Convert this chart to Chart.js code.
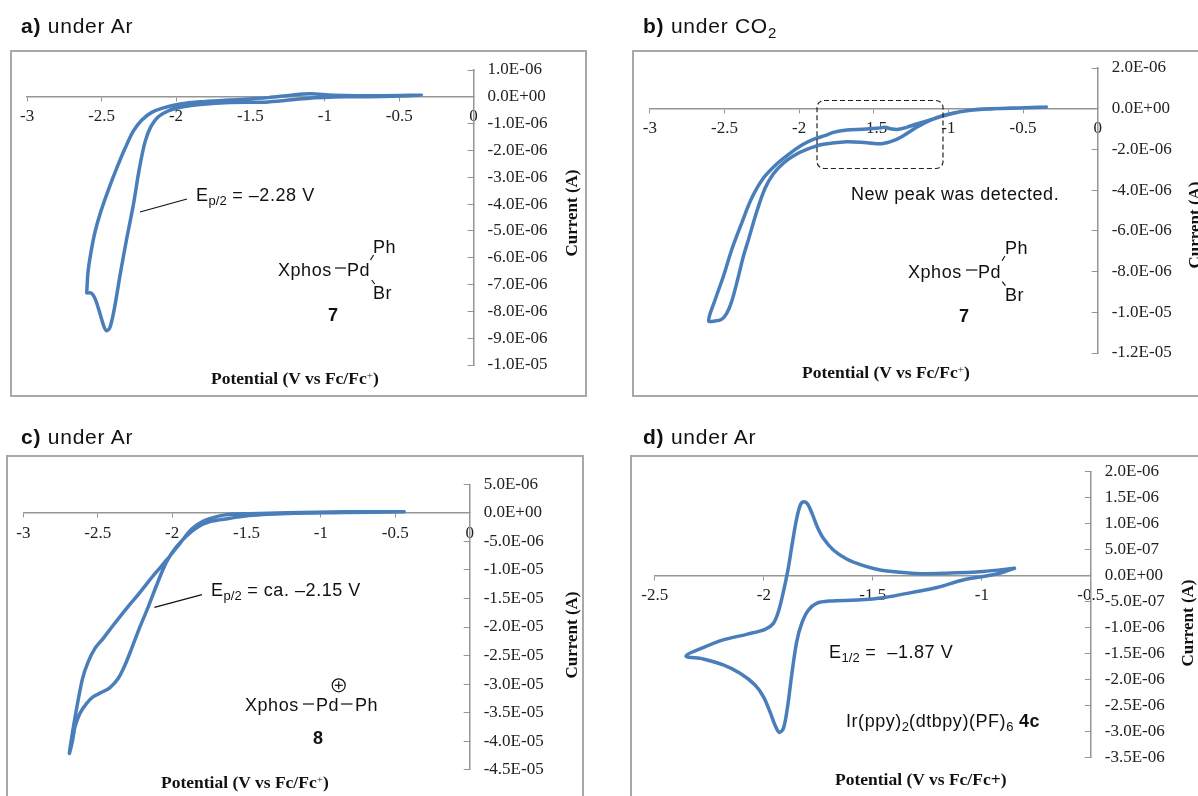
<!DOCTYPE html>
<html><head><meta charset="utf-8">
<script src="https://cdn.jsdelivr.net/npm/chart.js@4/dist/chart.umd.js"></script>
<style>
html,body{margin:0;padding:0;background:#fff;width:1198px;height:796px;overflow:hidden;}
body{position:relative;font-family:"Liberation Sans",Arial,sans-serif;color:#111;}
canvas{position:absolute;}
.frame{position:absolute;border:solid #a8a8a8;box-sizing:border-box;}
.t{position:absolute;white-space:nowrap;transform:translateY(-50%);line-height:1;}
.title{font-size:21px;letter-spacing:.75px;color:#111;}
.note{font-size:18px;letter-spacing:.55px;}
.note sub{font-size:13px;vertical-align:-4px;line-height:0;letter-spacing:0;}
.title sub{font-size:15px;vertical-align:-5px;line-height:0;}
.ax{font-family:"Liberation Serif","Times New Roman",serif;font-weight:bold;font-size:17.5px;}
.ax sup{font-size:11px;vertical-align:5px;line-height:0;font-weight:normal;}
.rot{position:absolute;white-space:nowrap;font-family:"Liberation Serif",serif;font-weight:bold;font-size:17px;transform:translate(-50%,-50%) rotate(-90deg);line-height:1;}
svg{position:absolute;left:0;top:0;}
</style></head><body>
<div class="frame" style="left:10px;top:50px;width:577px;height:347px;border-width:2px;"></div>
<div class="frame" style="left:632px;top:50px;width:580px;height:347px;border-width:2px;"></div>
<div class="frame" style="left:6px;top:455px;width:578px;height:360px;border-width:2px;"></div>
<div class="frame" style="left:630px;top:455px;width:580px;height:360px;border-width:2px;"></div>

<canvas id="ca"></canvas><canvas id="cb"></canvas><canvas id="cc"></canvas><canvas id="cd"></canvas>

<svg width="1198" height="796" stroke="#111" stroke-width="1.2" fill="none">
<line x1="140" y1="212" x2="187" y2="199"/>
<line x1="335" y1="268" x2="346" y2="268"/><line x1="370.5" y1="260" x2="373.6" y2="255"/><line x1="371.7" y1="280" x2="374.7" y2="284"/>
<line x1="966" y1="270" x2="977.4" y2="270"/><line x1="1002" y1="260.7" x2="1005" y2="256"/><line x1="1002.3" y1="281.7" x2="1005.4" y2="285.7"/>
<line x1="154.4" y1="607.3" x2="202" y2="594.7"/>
<line x1="303" y1="704" x2="314" y2="704"/><line x1="341" y1="704" x2="352.5" y2="704"/>
<circle cx="338.7" cy="685.3" r="6.5"/><line x1="334.7" y1="685.3" x2="342.7" y2="685.3"/><line x1="338.7" y1="681.3" x2="338.7" y2="689.3"/>
<rect x="817" y="100.5" width="126" height="68" rx="7" stroke="#222" stroke-width="1.2" stroke-dasharray="5 3"/>
</svg>

<div class="t title" style="left:21px;top:25px;"><b>a)</b> under Ar</div>
<div class="t title" style="left:643px;top:25px;"><b>b)</b> under CO<sub>2</sub></div>
<div class="t title" style="left:21px;top:436px;"><b>c)</b> under Ar</div>
<div class="t title" style="left:643px;top:436px;"><b>d)</b> under Ar</div>

<div class="t note" style="left:196px;top:195px;">E<sub>p/2</sub> = –2.28 V</div>
<div class="t note" style="left:278px;top:270px;">Xphos</div><div class="t note" style="left:347px;top:270px;">Pd</div>
<div class="t note" style="left:373px;top:247px;">Ph</div><div class="t note" style="left:373px;top:293px;">Br</div>
<div class="t note" style="left:328px;top:315px;"><b>7</b></div>
<div class="t ax" style="left:211px;top:379px;">Potential (V vs Fc/Fc<sup>+</sup>)</div>
<div class="rot" style="left:571px;top:213px;">Current (A)</div>

<div class="t note" style="left:851px;top:194px;">New peak was detected.</div>
<div class="t note" style="left:908px;top:272px;">Xphos</div><div class="t note" style="left:978px;top:272px;">Pd</div>
<div class="t note" style="left:1005px;top:248px;">Ph</div><div class="t note" style="left:1005px;top:295px;">Br</div>
<div class="t note" style="left:959px;top:316px;"><b>7</b></div>
<div class="t ax" style="left:802px;top:373px;">Potential (V vs Fc/Fc<sup>+</sup>)</div>
<div class="rot" style="left:1194px;top:225px;">Current (A)</div>

<div class="t note" style="left:211px;top:590px;">E<sub>p/2</sub> = ca. –2.15 V</div>
<div class="t note" style="left:245px;top:705px;">Xphos</div><div class="t note" style="left:316px;top:705px;">Pd</div><div class="t note" style="left:355px;top:705px;">Ph</div>
<div class="t note" style="left:313px;top:738px;"><b>8</b></div>
<div class="t ax" style="left:161px;top:783px;">Potential (V vs Fc/Fc<sup>+</sup>)</div>
<div class="rot" style="left:571px;top:635px;">Current (A)</div>

<div class="t note" style="left:829px;top:652px;">E<sub>1/2</sub> = &nbsp;–1.87 V</div>
<div class="t note" style="left:846px;top:721px;">Ir(ppy)<sub>2</sub>(dtbpy)(PF)<sub>6</sub> <b>4c</b></div>
<div class="t ax" style="left:835px;top:780px;">Potential (V vs Fc/Fc+)</div>
<div class="rot" style="left:1187px;top:623px;">Current (A)</div>

<script>
// Values in volts and microamperes
const aPotential=[-2.600,-2.591,-2.571,-2.544,-2.506,-2.455,-2.399,-2.343,-2.287,-2.231,-2.163,-2.085,-1.973,-1.839,-1.638,-1.38,-1.226,-1.097,-0.943,-0.608,-0.35,-0.608,-0.865,-1.123,-1.38,-1.638,-1.839,-1.951,-2.052,-2.119,-2.170,-2.208,-2.246,-2.287,-2.331,-2.376,-2.414,-2.444,-2.466,-2.484,-2.511,-2.540,-2.567,-2.600];
const aCurrent=[-7.31,-6.52,-5.78,-5.03,-4.29,-3.48,-2.67,-1.93,-1.28,-0.87,-0.58,-0.41,-0.27,-0.185,-0.12,-0.03,0.06,0.11,0.06,0.04,0.06,0.01,0,-0.06,-0.19,-0.21,-0.285,-0.37,-0.52,-0.745,-1.12,-1.68,-2.67,-4.04,-5.28,-6.65,-7.89,-8.60,-8.72,-8.57,-8.08,-7.58,-7.33,-7.31];

const bPotential=[-0.344,-0.767,-0.922,-1.023,-1.123,-1.213,-1.280,-1.335,-1.380,-1.425,-1.480,-1.570,-1.681,-1.771,-1.827,-1.893,-1.972,-2.061,-2.150,-2.240,-2.318,-2.385,-2.452,-2.508,-2.563,-2.606,-2.563,-2.519,-2.485,-2.452,-2.407,-2.374,-2.340,-2.284,-2.228,-2.173,-2.106,-2.039,-1.949,-1.838,-1.681,-1.547,-1.447,-1.369,-1.302,-1.213,-1.123,-1.023,-0.922,-0.767,-0.344];
const bCurrent=[0.08,-0.03,-0.146,-0.342,-0.555,-0.751,-0.915,-1.013,-0.997,-0.915,-0.964,-1.013,-1.046,-1.161,-1.325,-1.472,-1.750,-2.192,-2.716,-3.420,-4.402,-5.630,-6.940,-8.252,-9.396,-10.41,-10.43,-10.35,-10.05,-9.48,-8.252,-7.27,-6.45,-5.06,-3.91,-3.21,-2.68,-2.32,-2.0,-1.75,-1.62,-1.67,-1.72,-1.572,-1.326,-0.915,-0.57,-0.31,-0.146,-0.02,0.08];

const cPotential=[-0.44,-0.84,-1.226,-1.483,-1.611,-1.701,-1.790,-1.869,-1.947,-2.037,-2.127,-2.216,-2.306,-2.395,-2.463,-2.519,-2.564,-2.602,-2.638,-2.669,-2.691,-2.669,-2.653,-2.62,-2.575,-2.53,-2.474,-2.418,-2.362,-2.317,-2.272,-2.216,-2.16,-2.104,-2.037,-1.97,-1.902,-1.835,-1.746,-1.611,-1.483,-1.226,-0.84,-0.44];
const cCurrent=[0.18,0.18,0,-0.15,-0.26,-0.67,-1.43,-2.83,-5.34,-8.26,-11.0,-13.93,-16.73,-19.65,-21.98,-23.74,-26.07,-28.99,-33.67,-38.33,-42.14,-39.8,-37.46,-35.13,-33.37,-32.2,-31.44,-30.62,-28.99,-26.66,-23.74,-19.94,-16.43,-12.64,-8.55,-5.93,-4.0,-2.6,-1.55,-0.96,-0.45,-0.1,0.05,0.18];

const dPotential=[-0.85,-0.994,-1.17,-1.2835,-1.375,-1.467,-1.543,-1.620,-1.681,-1.727,-1.754,-1.777,-1.799,-1.816,-1.831,-1.849,-1.868,-1.888,-1.910,-1.933,-1.956,-1.994,-2.079,-2.186,-2.278,-2.357,-2.278,-2.186,-2.109,-2.040,-2.002,-1.972,-1.949,-1.929,-1.910,-1.892,-1.872,-1.849,-1.826,-1.795,-1.758,-1.697,-1.574,-1.452,-1.284,-1.205,-1.082,-0.994,-0.906,-0.85];
const dCurrent=[0.14,0.08,0.045,0.036,0.062,0.107,0.190,0.319,0.492,0.717,0.929,1.179,1.378,1.423,1.372,1.102,0.653,0.139,-0.31,-0.695,-0.92,-1.036,-1.132,-1.24,-1.389,-1.549,-1.607,-1.722,-1.883,-2.107,-2.332,-2.621,-2.878,-3.019,-2.942,-2.557,-1.915,-1.273,-0.92,-0.663,-0.535,-0.49,-0.471,-0.426,-0.297,-0.23,-0.08,-0.02,0.06,0.14];

const LINE='#4a7ebb', AXIS='#969696', TICK='#222';
function sci(uA){
  if(Math.abs(uA)<1e-9) return '0.0E+00';
  const [m,e]=(uA*1e-6).toExponential(1).split('e');
  const n=parseInt(e,10);
  return m+'E'+(n<0?'-':'+')+String(Math.abs(n)).padStart(2,'0');
}
function panel(id,box,plot,xr,yr,xs,ys){
  const c=document.getElementById(id);
  c.width=box.w;c.height=box.h;
  c.style.left=box.x+'px';c.style.top=box.y+'px';
  const axisW=box.x+box.w-plot.r;
  new Chart(c,{type:'scatter',
    data:{datasets:[{data:xs.map((x,i)=>({x:x,y:ys[i]})),showLine:true,borderColor:LINE,borderWidth:3.5,pointRadius:0,tension:0.33,fill:false,clip:false,borderJoinStyle:'round',borderCapStyle:'round'}]},
    options:{responsive:false,animation:false,events:[],
      layout:{padding:{left:plot.l-box.x,right:0,top:plot.t-box.y,bottom:box.y+box.h-plot.b}},
      plugins:{legend:{display:false},title:{display:false},tooltip:{enabled:false}},
      scales:{
        x:{type:'linear',min:xr[0],max:xr[1],position:{y:0},
           afterFit:s=>{s.height=0;},
           grid:{drawOnChartArea:false,drawTicks:true,tickLength:4,tickColor:AXIS},
           border:{color:AXIS,width:1.5},
           ticks:{stepSize:xr[2],autoSkip:false,maxRotation:0,padding:6,color:TICK,font:{family:'"Liberation Serif"',size:17},callback:v=>String(+v.toFixed(1))}},
        y:{type:'linear',min:yr[0],max:yr[1],position:'right',
           afterFit:s=>{s.width=axisW;s.paddingTop=0;s.paddingBottom=0;},
           grid:{drawOnChartArea:false,drawTicks:true,tickLength:-6,tickColor:AXIS},
           border:{color:AXIS,width:1.5},
           ticks:{stepSize:yr[2],autoSkip:false,padding:20,color:TICK,font:{family:'"Liberation Serif"',size:17},callback:v=>sci(v)}}
      }}});
}
panel('ca',{x:10,y:50,w:577,h:346},{l:27.2,r:473.6,t:70,b:365},[-3,0,0.5],[-10,1,1],aPotential,aCurrent);
panel('cb',{x:633,y:50,w:565,h:346},{l:649.8,r:1097.7,t:68,b:353},[-3,0,0.5],[-12,2,2],bPotential,bCurrent);
panel('cc',{x:6,y:456,w:577,h:340},{l:23.4,r:469.7,t:484.3,b:769.7},[-3,0,0.5],[-45,5,5],cPotential,cCurrent);
panel('cd',{x:631,y:456,w:567,h:340},{l:654.8,r:1090.8,t:471.7,b:757.3},[-2.5,-0.5,0.5],[-3.5,2,0.5],dPotential,dCurrent);
</script>
</body></html>
